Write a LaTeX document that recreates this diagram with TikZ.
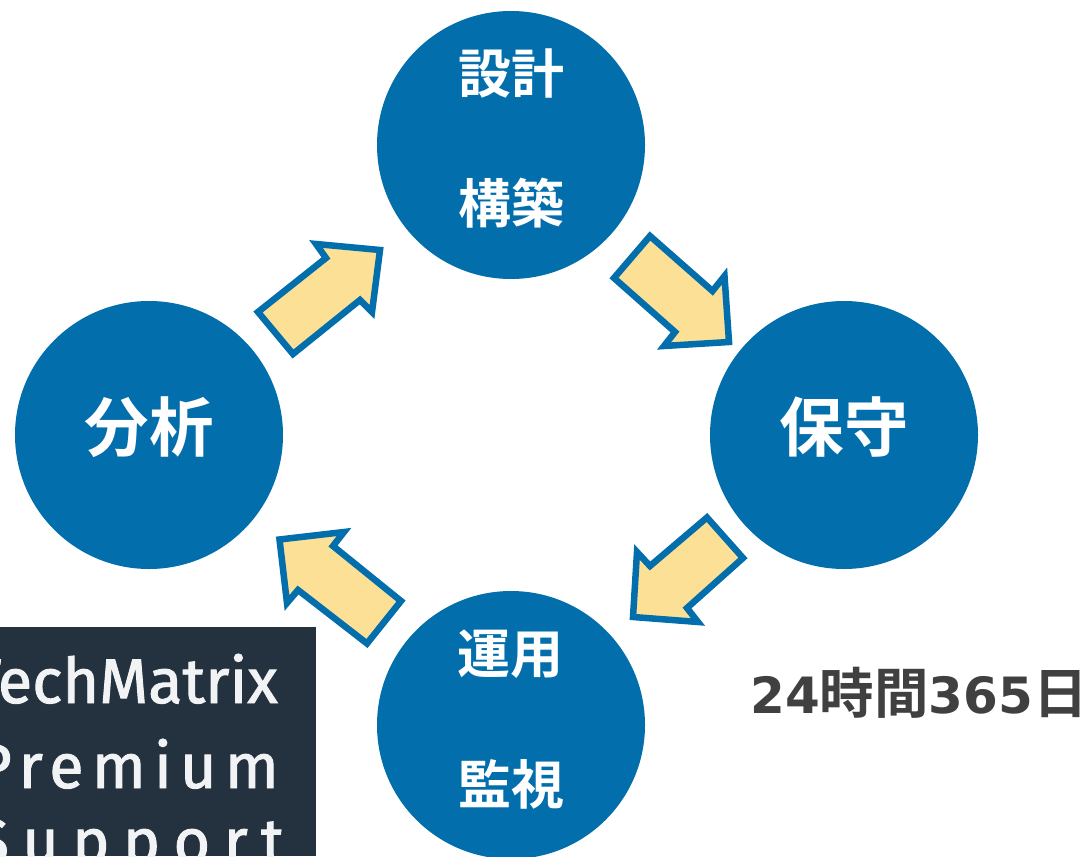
\documentclass[tikz,border=0pt]{standalone}
\usepackage{fontspec}
\newfontfamily\cjk{Noto Sans CJK JP}[BoldFont={Noto Sans CJK JP Bold}]
\newfontfamily\digfont{DejaVu Sans}
\newfontfamily\logofont{Fira Sans}[FakeBold=1.5]
\newfontfamily\logospaced{Fira Sans}[FakeBold=1.5,LetterSpace=13]
\newfontfamily\logowide{Fira Sans}[FakeBold=1.5,LetterSpace=21]
\setmainfont{DejaVu Sans}
\definecolor{blu}{HTML}{026EAC}
\definecolor{yel}{HTML}{FBE096}
\definecolor{dark}{HTML}{243240}
\begin{document}
\begin{tikzpicture}[x=1pt,y=-1pt,
 circ/.style={circle,fill=blu,minimum size=268pt,inner sep=0pt},
 lab/.style={text=white,font=\cjk\bfseries\fontsize{53}{53}\selectfont,inner sep=0},
 blab/.style={text=white,font=\cjk\bfseries\fontsize{64.5}{64}\selectfont,inner sep=0},
 arr/.style={fill=yel,draw=blu,line width=6.5pt,miter limit=10},
 logo/.style={text=white!94!dark,inner sep=0,anchor=base east}]
\useasboundingbox (0,0) rectangle (1086,856);
\node[circ] (top) at (511,145) {};
\node[circ] (right) at (844,435) {};
\node[circ] (bot) at (511,725) {};
\node[circ] (left) at (149,435) {};
\node[lab] (t1) at (511,73) {設計};
\node[lab] (t2) at (511,203) {構築};
\node[blab] (rl) at (844,427) {保守};
\node[lab] (b1) at (510,654) {運用};
\node[lab] (b2) at (511,784) {監視};
\node[blab] (ll) at (149,427) {分析};
\draw[arr] (258,312) -- (326,258) -- (316,244) -- (380,250) -- (372,312) -- (360,300) -- (293,354) -- cycle;
\draw[arr] (650,236) -- (712.5,291) -- (724.5,276) -- (729,342) -- (664,346) -- (675,332) -- (614,278) -- cycle;
\draw[arr] (707,517.5) -- (743,558) -- (687,608) -- (698,622) -- (633,617) -- (637,552) -- (650,566) -- cycle;
\draw[arr] (401,601) -- (367,643.5) -- (298,590) -- (287,603) -- (279.5,539.5) -- (344,532) -- (333,546) -- cycle;
\fill[dark] (0,627) rectangle (316,856);
\begin{scope}
\clip (0,627) rectangle (316,856);
\node[logo,font=\logofont\fontsize{63}{63}\selectfont] (m1) at (278,703) {TechMatrix};
\node[logo,font=\logospaced\fontsize{63}{63}\selectfont] (m2) at (279,788) {Premium};
\node[logo,font=\logowide\fontsize{63}{63}\selectfont] (m3) at (284,863) {Support};
\end{scope}
\node[text=black!75,font=\fontsize{50}{50}\selectfont,inner sep=0,anchor=base west] (c) at (750,713) {\digfont\bfseries 24{\cjk\fontsize{54.5}{54}\selectfont 時間}365{\cjk\fontsize{54.5}{54}\selectfont 日}};
\end{tikzpicture}
\end{document}
